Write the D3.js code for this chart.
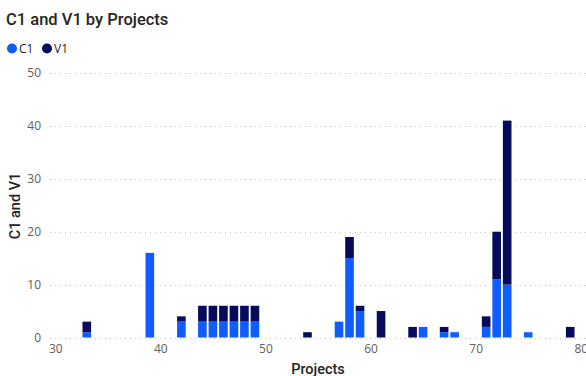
<!DOCTYPE html>
<html>
<head>
<meta charset="utf-8">
<script src="https://cdn.jsdelivr.net/npm/d3@7"></script>
<style>
  html, body { margin: 0; padding: 0; background: #fff; }
  svg { display: block; }
</style>
</head>
<body>
<svg id="chart" width="586" height="376"></svg>
<script>
// Projects with their C1 and V1 counts (stacked: C1 at the bottom, V1 on top)
const projects = [33, 39, 42, 44, 45, 46, 47, 48, 49, 54, 57, 58, 59, 61, 64, 65, 67, 68, 71, 72, 73, 75, 79];
const c1Values = [1, 16, 3, 3, 3, 3, 3, 3, 3, 0, 3, 15, 5, 0, 0, 2, 1, 1, 2, 11, 10, 1, 0];
const v1Values = [2, 0, 1, 3, 3, 3, 3, 3, 3, 1, 0, 4, 1, 5, 2, 0, 1, 0, 2, 9, 31, 0, 2];
const seriesNames = ["C1", "V1"];
const seriesColors = ["#0F5CFF", "#070B5C"];
const yTicks = [0, 10, 20, 30, 40, 50];
const xTicks = [30, 40, 50, 60, 70, 80];

const svg = d3.select("#chart");
const plot = { left: 50, right: 586, top: 73, bottom: 337.5 };

const x = d3.scaleLinear().domain([29.5, 80.5]).range([plot.left, plot.right]);
const y = d3.scaleLinear().domain([0, 50]).range([plot.bottom, plot.top]);

const table = projects.map((p, i) => ({ project: p, C1: c1Values[i], V1: v1Values[i] }));
const stacked = d3.stack().keys(seriesNames)(table);

// Title
svg.append("text")
  .attr("x", 6).attr("y", 24.5)
  .attr("font-family", "Roboto, 'Noto Sans', sans-serif")
  .attr("font-size", 16.5).attr("font-weight", 500)
  .attr("fill", "#252423")
  .text("C1 and V1 by Projects");

// Legend
const legend = svg.append("g").attr("font-family", "'Open Sans', 'Noto Sans', sans-serif").attr("font-size", 12);
const legendPos = [12, 47];
seriesNames.forEach((name, i) => {
  legend.append("circle").attr("cx", legendPos[i]).attr("cy", 48.5).attr("r", 5).attr("fill", seriesColors[i]);
  legend.append("text").attr("x", legendPos[i] + 7).attr("y", 53)
    .attr("fill", "#252423").text(name);
});

// Horizontal dotted gridlines
svg.append("g").selectAll("line").data(yTicks).join("line")
  .attr("x1", plot.left).attr("x2", plot.right)
  .attr("y1", d => Math.round(y(d)) + 0.5).attr("y2", d => Math.round(y(d)) + 0.5)
  .attr("stroke", "#c8c6c4").attr("stroke-width", 1)
  .attr("stroke-dasharray", "1,4");

// Y axis labels
const yAxis = d3.axisLeft(y).tickValues(yTicks).tickSize(0).tickPadding(0);
const yg = svg.append("g").attr("transform", `translate(41,0)`).call(yAxis);
yg.select(".domain").remove();
yg.selectAll("text")
  .attr("font-family", "'Open Sans', 'Noto Sans', sans-serif")
  .attr("font-size", 12).attr("fill", "#605E5C");

// X axis labels (the last one runs past the right edge of the frame)
const xAxis = d3.axisBottom(x).tickValues(xTicks).tickSize(0).tickPadding(0).tickFormat(d3.format("d"));
const xg = svg.append("g").attr("transform", `translate(0,344)`).call(xAxis);
xg.select(".domain").remove();
xg.selectAll("text")
  .attr("font-family", "'Open Sans', 'Noto Sans', sans-serif")
  .attr("font-size", 12).attr("fill", "#605E5C");

// Axis titles
svg.append("text")
  .attr("x", 318).attr("y", 373.5).attr("text-anchor", "middle")
  .attr("font-family", "Roboto, 'Noto Sans', sans-serif")
  .attr("font-size", 14.5).attr("font-weight", 500).attr("fill", "#252423")
  .text("Projects");
svg.append("text")
  .attr("transform", "translate(19.5,206) rotate(-90)").attr("text-anchor", "middle")
  .attr("font-family", "Roboto, 'Noto Sans', sans-serif")
  .attr("font-size", 14.5).attr("font-weight", 500).attr("fill", "#252423")
  .text("C1 and V1");

// Stacked bars
const halfWidth = 0.41;
svg.append("g").selectAll("g").data(stacked).join("g")
  .attr("fill", (d, i) => seriesColors[i])
  .selectAll("rect").data(d => d.filter(s => s[1] > s[0])).join("rect")
  .attr("x", d => x(d.data.project - halfWidth))
  .attr("width", d => x(d.data.project + halfWidth) - x(d.data.project - halfWidth))
  .attr("y", d => y(d[1]))
  .attr("height", d => y(d[0]) - y(d[1]));
</script>
</body>
</html>
